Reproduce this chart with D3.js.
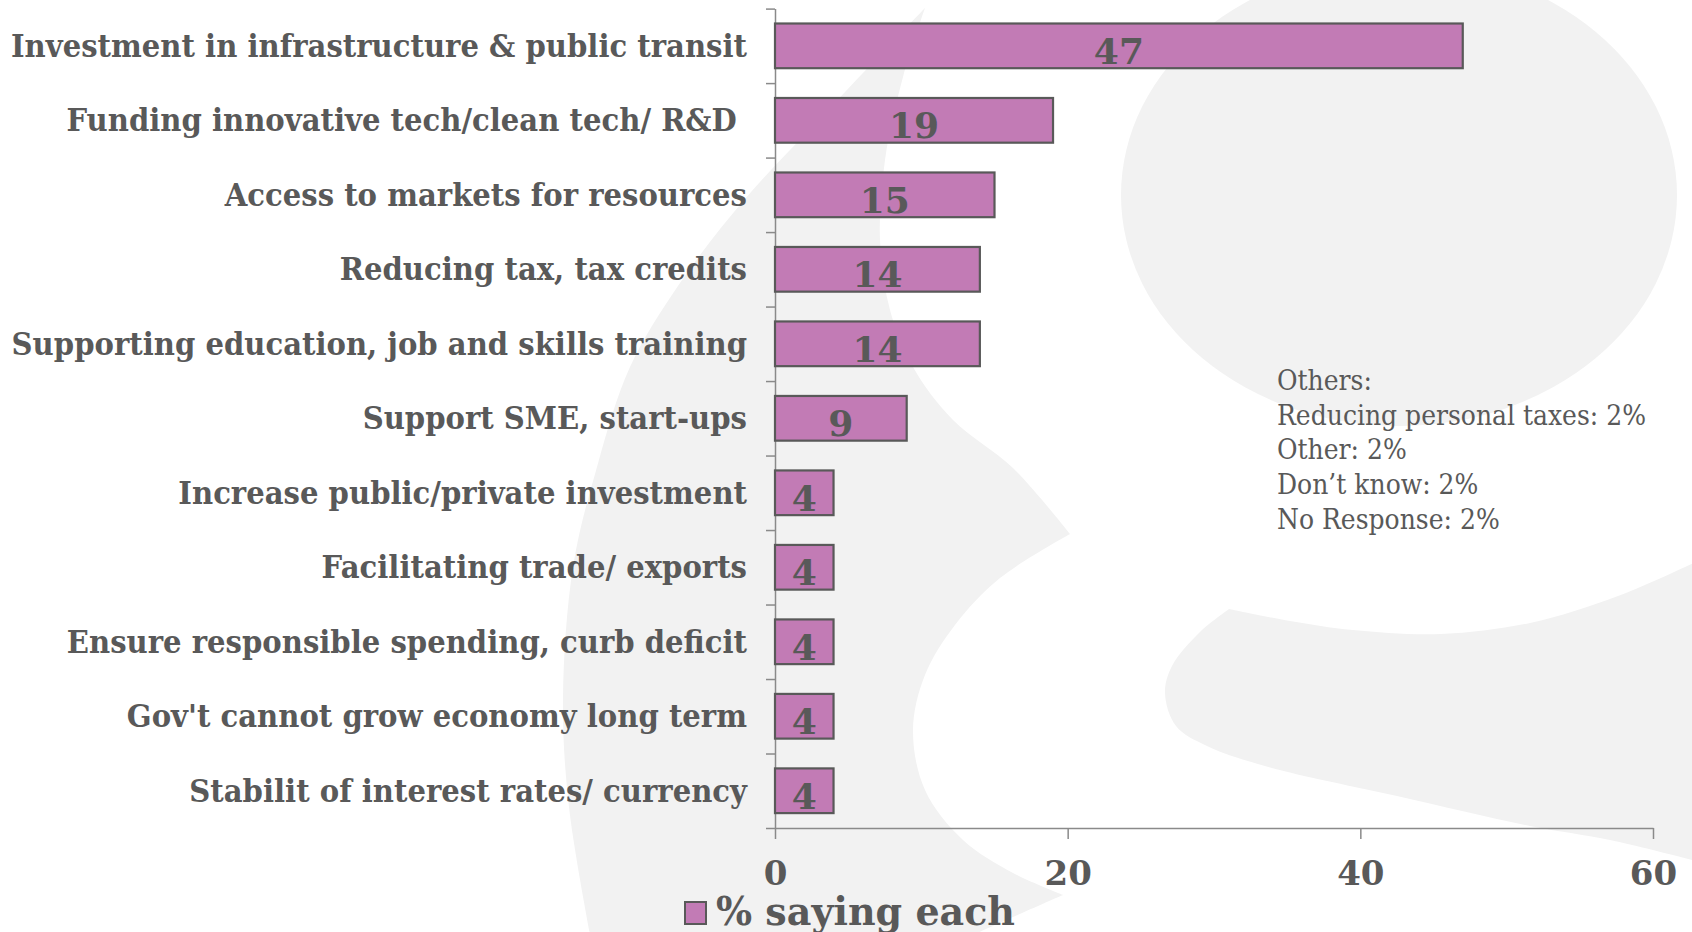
<!DOCTYPE html>
<html>
<head>
<meta charset="utf-8">
<script src="https://cdn.jsdelivr.net/npm/d3@7"></script>
<style>
  html, body { margin: 0; padding: 0; background: #ffffff; }
  svg { display: block; }
</style>
</head>
<body>
<svg id="chart" width="1692" height="932"></svg>
<script>
// ---- data ----
const categories = [
  "Investment in infrastructure & public transit",
  "Funding innovative tech/clean tech/ R&D ",
  "Access to markets for resources",
  "Reducing tax, tax credits",
  "Supporting education, job and skills training",
  "Support SME, start-ups",
  "Increase public/private investment",
  "Facilitating trade/ exports",
  "Ensure responsible spending, curb deficit",
  "Gov't cannot grow economy long term",
  "Stabilit of interest rates/ currency"
];
const values = [47, 19, 15, 14, 14, 9, 4, 4, 4, 4, 4];
const xTicks = [0, 20, 40, 60];
const seriesName = "% saying each";
const othersNote = [
  "Others:",
  "Reducing personal taxes: 2%",
  "Other: 2%",
  "Don\u2019t know: 2%",
  "No Response: 2%"
];

// ---- decorative backdrop (light grey brand swash) ----
const swash = [
  [[925,8],[903,77],[885,160],[880,240],[890,310],[913,367],[953,420],[1013,468],[1070,534]],
  [[1070,534],[1000,578],[955,625],[925,675],[913,730],[925,790],[963,840],[1013,873],[1063,895]],
  [[1063,895],[1013,917],[975,934]],
  [[975,934],[590,934]],
  [[590,934],[569,807],[563,700],[573,567],[597,467],[630,367],[680,283],[744,200],[814,125],[880,55],[925,8]]
];
const tail = [
  [[1229,609],[1290,621],[1353,630],[1441,634],[1530,623],[1618,596],[1700,560]],
  [[1700,560],[1700,862]],
  [[1700,862],[1610,840],[1530,826],[1397,796],[1265,766],[1207,746],[1176,726],[1165,693],[1172,666],[1199,633],[1229,609]]
];
const bowl = { cx: 1399, cy: 195, rx: 278, ry: 231 };

const TEXT = "#595959";
const AXIS = "#8a8a8a";
const FILL = "#c27bb5";
const FONT = "'DejaVu Serif', 'Liberation Serif', serif";

const svg = d3.select("#chart");
const W = 1692, H = 932;

svg.append("rect").attr("width", W).attr("height", H).attr("fill", "#ffffff");

const curve = d3.line().curve(d3.curveCatmullRom.alpha(0.5));
function joinSegments(segs) {
  return segs.map((s, i) => {
    const d = s.length > 2 ? curve(s) : d3.line()(s);
    return i === 0 ? d : d.replace(/^M[^CL]*/, "");
  }).join("") + "Z";
}
const bg = svg.append("g").attr("fill", "#f2f2f2");
bg.append("ellipse").attr("cx", bowl.cx).attr("cy", bowl.cy).attr("rx", bowl.rx).attr("ry", bowl.ry);
bg.append("path").attr("d", joinSegments(swash));
bg.append("path").attr("d", joinSegments(tail));

// ---- scales ----
const x = d3.scaleLinear().domain([0, 60]).range([775, 1653]);
const y = d3.scaleBand().domain(categories).range([8.6, 828]).paddingInner(0.4).paddingOuter(0.2);
const yEdge = d3.scaleLinear().domain([0, categories.length]).range([8.6, 828]);

// ---- axes ----
const gx = svg.append("g")
  .attr("transform", `translate(0,${yEdge(categories.length)})`)
  .call(d3.axisBottom(x).tickValues(xTicks).tickSize(11).tickSizeOuter(0).tickPadding(22))
  .attr("font-family", FONT).attr("font-size", 34).attr("font-weight", "bold");
gx.select(".domain").attr("stroke", AXIS).attr("stroke-width", 1.5);
gx.selectAll(".tick line").attr("stroke", AXIS).attr("stroke-width", 1.5);
gx.selectAll(".tick text").attr("fill", TEXT);

const gy = svg.append("g")
  .attr("transform", `translate(${x(0)},0)`)
  .call(d3.axisLeft(yEdge).tickValues(d3.range(categories.length + 1)).tickSize(9).tickSizeOuter(0).tickFormat(""));
gy.select(".domain").attr("stroke", AXIS).attr("stroke-width", 1.5);
gy.selectAll(".tick line").attr("stroke", AXIS).attr("stroke-width", 1.5);

// ---- bars ----
const rows = categories.map((c, i) => ({ cat: c, val: values[i] }));
svg.append("g").selectAll("rect").data(rows).join("rect")
  .attr("x", x(0))
  .attr("y", d => y(d.cat))
  .attr("width", d => x(d.val) - x(0))
  .attr("height", y.bandwidth())
  .attr("fill", FILL)
  .attr("stroke", TEXT)
  .attr("stroke-width", 2.2);

// value labels
svg.append("g").selectAll("text").data(rows).join("text")
  .attr("x", d => (x(0) + x(d.val)) / 2)
  .attr("y", d => y(d.cat) + y.bandwidth() / 2 + 18)
  .attr("text-anchor", "middle")
  .attr("font-family", FONT).attr("font-size", 36).attr("font-weight", "bold")
  .attr("fill", TEXT)
  .text(d => d.val);

// category labels
const catLabels = svg.append("g").selectAll("text").data(rows).join("text")
  .attr("x", x(0) - 28)
  .attr("y", d => y(d.cat) + y.bandwidth() / 2 + 11)
  .attr("text-anchor", "end")
  .attr("font-family", FONT).attr("font-size", 31).attr("font-weight", "bold")
  .attr("fill", TEXT)
  .style("white-space", "pre")
  .text(d => d.cat);

// squeeze a group of texts so the widest one spans the given width
function fitWidth(sel, target) {
  const widths = sel.nodes().map(n => n.getComputedTextLength());
  const k = target / d3.max(widths);
  sel.each(function(d, i) {
    d3.select(this).attr("textLength", widths[i] * k).attr("lengthAdjust", "spacingAndGlyphs");
  });
}
fitWidth(catLabels, 736);

// ---- note block ----
const note = svg.append("g").selectAll("text").data(othersNote).join("text")
  .attr("x", 1277)
  .attr("y", (d, i) => 390 + i * 34.7)
  .attr("font-family", FONT).attr("font-size", 28)
  .attr("fill", TEXT)
  .text(d => d);
fitWidth(note, 369);

// ---- legend ----
const legend = svg.append("g");
legend.append("rect")
  .attr("x", 685).attr("y", 902).attr("width", 21).attr("height", 22)
  .attr("fill", FILL).attr("stroke", TEXT).attr("stroke-width", 2);
const legText = legend.append("text")
  .attr("x", 716).attr("y", 925)
  .attr("font-family", FONT).attr("font-size", 40).attr("font-weight", "bold")
  .attr("fill", TEXT)
  .text(seriesName);
fitWidth(legText, 299);
</script>
</body>
</html>
